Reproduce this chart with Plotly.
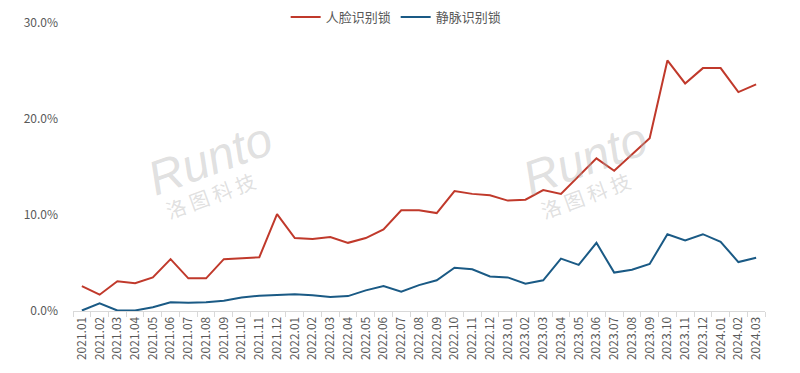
import plotly.graph_objects as go

months = ["2021.01","2021.02","2021.03","2021.04","2021.05","2021.06","2021.07","2021.08","2021.09","2021.10","2021.11","2021.12",
          "2022.01","2022.02","2022.03","2022.04","2022.05","2022.06","2022.07","2022.08","2022.09","2022.10","2022.11","2022.12",
          "2023.01","2023.02","2023.03","2023.04","2023.05","2023.06","2023.07","2023.08","2023.09","2023.10","2023.11","2023.12",
          "2024.01","2024.02","2024.03"]
face = [2.6,1.7,3.1,2.9,3.5,5.4,3.4,3.4,5.4,5.5,5.6,10.1,
        7.6,7.5,7.7,7.1,7.6,8.5,10.5,10.5,10.2,12.5,12.2,12.05,
        11.5,11.6,12.6,12.2,14.0,15.9,14.6,16.3,18.0,26.1,23.7,25.3,
        25.3,22.8,23.6]
vein = [0.05,0.8,0.05,0.05,0.4,0.9,0.85,0.9,1.07,1.4,1.6,1.7,
        1.75,1.65,1.45,1.55,2.15,2.6,2.0,2.7,3.2,4.5,4.35,3.6,
        3.5,2.85,3.2,5.45,4.8,7.1,4.0,4.3,4.9,8.0,7.35,8.0,
        7.2,5.1,5.55]
names = ["人脸识别锁", "静脉识别锁"]
colors = ["#C0392B", "#1A5A85"]
ytickvals = [0, 10, 20, 30]
yticktext = ["0.0%", "10.0%", "20.0%", "30.0%"]

font = "Noto Sans CJK SC, Noto Sans, sans-serif"

fig = go.Figure()
for nm, vals, c in zip(names, [face, vein], colors):
    fig.add_trace(go.Scatter(x=months, y=vals, name=nm, mode="lines",
                             line=dict(color=c, width=2)))

# watermark
for xp in [0.198, 0.74]:
    fig.add_annotation(text="<i>Runto</i>", xref="paper", yref="paper", x=xp, y=0.53,
                       xanchor="center", yanchor="middle",
                       showarrow=False, textangle=-20,
                       font=dict(size=48, color="rgba(175,175,175,0.4)", family="Liberation Sans, sans-serif"))
    fig.add_annotation(text="洛 图 科 技", xref="paper", yref="paper", x=xp, y=0.40,
                       xanchor="center", yanchor="middle",
                       showarrow=False, textangle=-20,
                       font=dict(size=20, color="rgba(175,175,175,0.4)", family=font))

fig.update_layout(
    width=800, height=373,
    margin=dict(l=65, r=43, t=15, b=70, autoexpand=False),
    paper_bgcolor="white", plot_bgcolor="white",
    font=dict(family=font, color="#595959", size=11),
    showlegend=True,
    legend=dict(orientation="h", x=0.467, xanchor="center", yref="container", y=0.976, yanchor="middle",
                font=dict(size=13, color="#595959"), itemwidth=30, tracegroupgap=0),
    xaxis=dict(type="category", range=[-0.5, 38.5], tickangle=-90, automargin=False,
               showgrid=False, showline=True, linecolor="#D9D9D9", linewidth=1,
               ticks="outside", tickcolor="#D9D9D9", ticklen=5, tickson="boundaries",
               tickfont=dict(size=12, color="#595959")),
    yaxis=dict(range=[0, 30], tickvals=ytickvals, ticktext=yticktext, automargin=False,
               showgrid=False, zeroline=False, showline=False,
               ticklabelstandoff=14, tickfont=dict(size=12, color="#595959")),
)

fig.write_html("out.html")
